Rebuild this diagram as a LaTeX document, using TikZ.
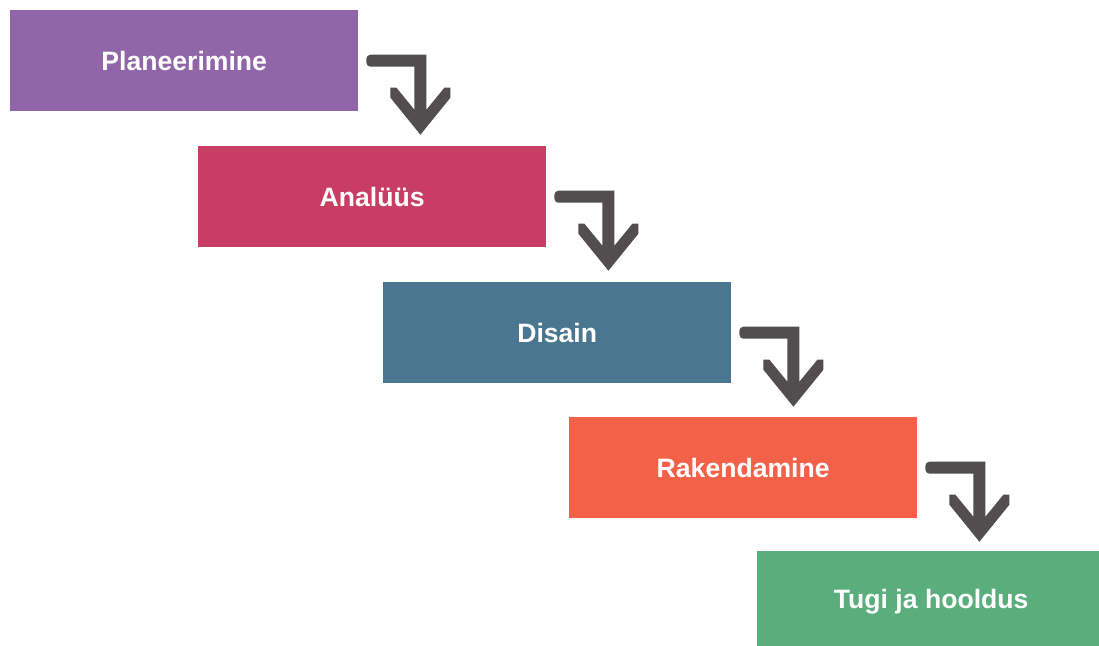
\documentclass[tikz,border=0pt]{standalone}
\usepackage{fontspec}
\setmainfont{Liberation Sans}
\definecolor{cPlan}{HTML}{9166A8}
\definecolor{cAnal}{HTML}{C83D63}
\definecolor{cDis}{HTML}{4A778F}
\definecolor{cRak}{HTML}{F26148}
\definecolor{cTugi}{HTML}{5AAE7B}
\definecolor{cArrow}{HTML}{524E4F}
\tikzset{
  phase/.style={rectangle, inner sep=0pt, minimum width=348pt, minimum height=101pt,
    text=white, font=\fontsize{26.6}{30}\selectfont\bfseries},
  bendarrow/.style={fill=cArrow}
}
\newcommand{\bendarrowpath}{[rounded corners=4pt] (8,6) -- (8,-6) [sharp corners] -- (68,-6) -- (68,49) -- (86,27) -- (92,27) -- (92,37) -- (62,74) -- (32,37) -- (32,27) -- (38,27) -- (56,49) -- (56,6) [rounded corners=4pt] -- cycle}
\begin{document}
\begin{tikzpicture}[x=1pt,y=-1pt]
\useasboundingbox (0,0) rectangle (1099,645);
\clip (0,0) rectangle (1099,645);
\fill[white] (0,0) rectangle (1099,645);
\node[phase, fill=cPlan, anchor=north west] (b1) at (10,10) {Planeerimine};
\node[phase, fill=cAnal, anchor=north west] (b2) at (198,146) {Analüüs};
\node[phase, fill=cDis, anchor=north west] (b3) at (383,282) {Disain};
\node[phase, fill=cRak, anchor=north west] (b4) at (569,417) {Rakendamine};
\node[phase, fill=cTugi, anchor=north west] (b5) at (757,551) {Tugi ja hooldus};
\foreach \b in {b1,b2,b3,b4}{
  \fill[bendarrow, shift={(\b.east)}] \bendarrowpath;
}
\end{tikzpicture}
\end{document}
